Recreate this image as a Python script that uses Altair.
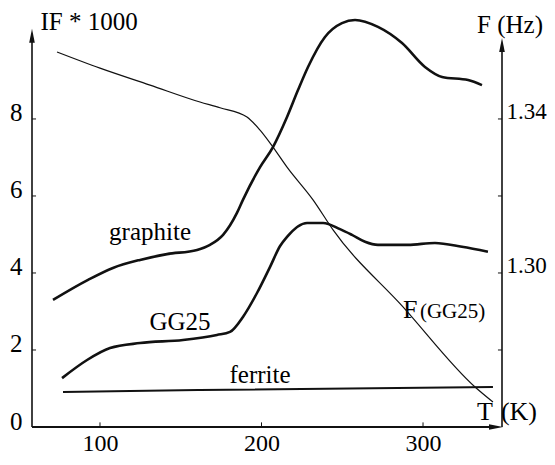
import altair as alt
import pandas as pd

# ---- data ----
T_graphite = [70.9, 92.6, 108.0, 124.8, 141.5, 160.1, 168.1, 176.2, 184.8, 188.5, 199.1, 207.1,
              215.8, 222.6, 228.8, 239.3, 249.8, 257.9, 272.1, 287.0, 301.2, 311.8, 327.9, 336.5]
IF_graphite = [3.30, 3.82, 4.13, 4.34, 4.49, 4.60, 4.73, 4.99, 5.56, 5.90, 6.75, 7.27,
               8.05, 8.75, 9.35, 10.13, 10.49, 10.57, 10.39, 9.97, 9.35, 9.09, 9.01, 8.88]

T_gg25 = [76.5, 92.0, 106.2, 124.8, 151.4, 172.4, 180.5, 188.5, 197.2, 205.3, 211.5, 215.8,
          228.2, 238.1, 248.6, 256.0, 264.1, 272.1, 290.7, 307.4, 324.1, 340.2]
IF_gg25 = [1.27, 1.74, 2.05, 2.18, 2.26, 2.39, 2.47, 2.86, 3.48, 4.16, 4.70, 4.94,
           5.30, 5.30, 5.14, 4.99, 4.81, 4.73, 4.73, 4.78, 4.68, 4.55]

T_ferrite = [77.1, 161.9, 343.3]
IF_ferrite = [0.91, 0.96, 1.04]

T_fgg25 = [73.4, 100.0, 131.0, 161.9, 174.3, 191.0, 199.1, 207.1, 215.8, 231.9, 244.3, 287.6, 332.2, 343.3]
F_fgg25 = [1.3574, 1.3532, 1.3488, 1.3444, 1.3429, 1.3405, 1.3371, 1.3327, 1.3275, 1.3190,
           1.3112, 1.2912, 1.2704, 1.2665]

x_ticks = [100, 200, 300]
left_ticks = [0, 2, 4, 6, 8]
left_minor = [2, 4, 6, 8]
right_labels = [1.30, 1.34]
right_minor = [1.28, 1.30, 1.32, 1.34]

T_MIN, T_MAX = 57.9, 348.9
IF_MAX = 10.70
F_MIN, F_MAX = 1.26, 1.367

FONT = "Liberation Serif"
INK = "#111111"

xs = alt.Scale(domain=[T_MIN, T_MAX], nice=False, zero=False)
ys = alt.Scale(domain=[0, IF_MAX], nice=False, zero=False)
fs = alt.Scale(domain=[F_MIN, F_MAX], nice=False, zero=False)

x_axis = alt.Axis(values=x_ticks, orient="bottom", domain=False, ticks=False, grid=False, title="",
                  labelFont=FONT, labelFontSize=24, labelColor="black", labelPadding=4)
left_axis = alt.Axis(values=left_ticks, orient="left", domain=False, ticks=False, grid=False,
                     title="", labelFont=FONT, labelFontSize=25, labelColor="black",
                     labelPadding=10, labelOffset=-6)
right_axis = alt.Axis(values=right_labels, orient="right", format=".2f", domain=False,
                      ticks=False, grid=False, title="", labelFont=FONT, labelFontSize=23,
                      labelColor="black", labelPadding=4, labelOffset=-7)


def X(field=None, datum=None):
    if field is not None:
        return alt.X(field, type="quantitative", scale=xs, axis=x_axis)
    return alt.X(datum=datum, type="quantitative", scale=xs, axis=x_axis)


def Y(field=None, datum=None):
    if field is not None:
        return alt.Y(field, type="quantitative", scale=ys, axis=left_axis)
    return alt.Y(datum=datum, type="quantitative", scale=ys, axis=left_axis)


def YF(field=None, datum=None):
    if field is not None:
        return alt.Y(field, type="quantitative", scale=fs, axis=right_axis)
    return alt.Y(datum=datum, type="quantitative", scale=fs, axis=right_axis)


df_g = pd.DataFrame({"T": T_graphite, "IF": IF_graphite})
df_gg = pd.DataFrame({"T": T_gg25, "IF": IF_gg25})
df_fe = pd.DataFrame({"T": T_ferrite, "IF": IF_ferrite})
df_f = pd.DataFrame({"T": T_fgg25, "F": F_fgg25})

graphite = alt.Chart(df_g).mark_line(color=INK, strokeWidth=2.6, interpolate="monotone").encode(
    x=X("T"), y=Y("IF"))
gg25 = alt.Chart(df_gg).mark_line(color=INK, strokeWidth=2.6, interpolate="monotone").encode(
    x=X("T"), y=Y("IF"))
ferrite = alt.Chart(df_fe).mark_line(color=INK, strokeWidth=2.0, interpolate="monotone").encode(
    x=X("T"), y=Y("IF"))

# axis lines with arrowheads
left_line = alt.Chart().mark_rule(color=INK, strokeWidth=1.6).encode(
    x=X(datum=T_MIN), y=Y(datum=0), y2=alt.datum(10.16))
right_line = alt.Chart().mark_rule(color=INK, strokeWidth=1.6).encode(
    x=X(datum=T_MAX), y=Y(datum=0), y2=alt.datum(9.92))
bottom_line = alt.Chart().mark_rule(color=INK, strokeWidth=1.8).encode(
    x=X(datum=T_MIN), x2=alt.datum(345.2), y=Y(datum=0))

up_arrow = "M0,-1L0.4,1L-0.4,1Z"
right_arrow = "M1,0L-1,-0.4L-1,0.4Z"
arr_left = alt.Chart().mark_point(shape=up_arrow, filled=True, size=196, color=INK, opacity=1).encode(
    x=X(datum=T_MIN), y=Y(datum=10.16))
arr_right = alt.Chart().mark_point(shape=up_arrow, filled=True, size=196, color=INK, opacity=1).encode(
    x=X(datum=T_MAX), y=Y(datum=9.92))
arr_x = alt.Chart().mark_point(shape=right_arrow, filled=True, size=196, color=INK, opacity=1).encode(
    x=X(datum=345.2), y=Y(datum=0))

lt = alt.Chart(pd.DataFrame({"v": left_minor})).mark_rule(color=INK, strokeWidth=1).encode(
    y=Y("v"), x=X(datum=T_MIN), x2=alt.datum(T_MIN + 2.5))
xt = alt.Chart(pd.DataFrame({"v": x_ticks})).mark_rule(color=INK, strokeWidth=1).encode(
    x=X("v"), y=Y(datum=0), y2=alt.datum(0.12))


def label(txt, t, v, size=25, align="center", baseline="alphabetic"):
    return alt.Chart().mark_text(text=txt, font=FONT, fontSize=size, color="black",
                                 align=align, baseline=baseline).encode(
        x=X(datum=t), y=Y(datum=v))


texts = [
    label("IF * 1000", 93.2, 10.52, baseline="middle"),
    label("F (Hz)", 353.9, 10.44, baseline="middle"),
    label("graphite", 131.0, 4.86),
    label("GG25", 149.5, 2.52),
    label("ferrite", 199.1, 1.14),
    label("F", 287.6, 2.83, size=26, align="left"),
    label("(GG25)", 298.1, 2.83, size=21, align="left"),
    label("T", 338.4, 0.18, size=26),
    label("(K)", 359.4, 0.18, size=26),
]

left_group = alt.layer(graphite, gg25, ferrite, left_line, right_line, bottom_line,
                       arr_left, arr_right, arr_x, lt, xt, *texts)

fline = alt.Chart(df_f).mark_line(color=INK, strokeWidth=1.2, interpolate="monotone").encode(
    x=X("T"), y=YF("F"))
rt = alt.Chart(pd.DataFrame({"v": right_minor})).mark_rule(color=INK, strokeWidth=1).encode(
    y=YF("v"), x=X(datum=T_MAX - 2.5), x2=alt.datum(T_MAX))
right_group = alt.layer(fline, rt)

chart = alt.layer(left_group, right_group).resolve_scale(y="independent").properties(
    width=470, height=412, autosize="none",
    padding={"left": 24, "top": 7, "right": 45, "bottom": 30},
    background="white",
).configure_view(stroke=None)

chart.save("out.html", embed_options={"renderer": "svg", "actions": False})
